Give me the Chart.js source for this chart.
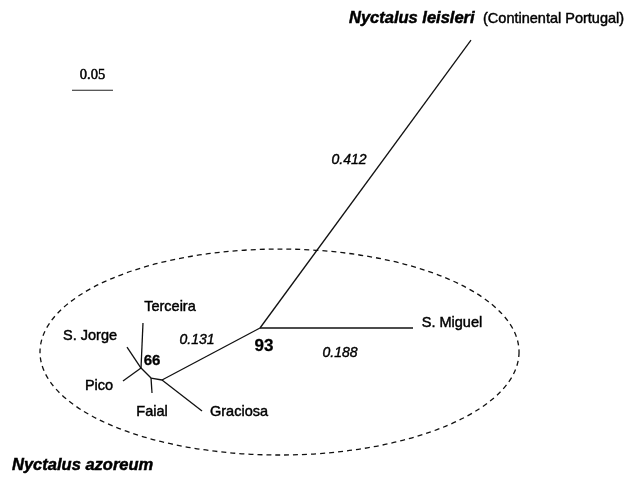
<!DOCTYPE html>
<html>
<head>
<meta charset="utf-8">
<script src="https://cdn.jsdelivr.net/npm/chart.js@4/dist/chart.umd.min.js"></script>
<style>
  html, body { margin: 0; padding: 0; background: #fff; }
  #wrap { width: 626px; height: 478px; }
</style>
</head>
<body>
<div id="wrap"><canvas id="c" width="626" height="478"></canvas></div>
<script>
// ---- Tree data (distance units: substitutions/site; origin at the node with support 93) ----
const nodeNames = ['N93', 'leisleri', 'S. Miguel', 'NG', 'Graciosa', 'NF', 'Faial', 'N66', 'Pico', 'S. Jorge', 'Terceira'];
const nodeX     = [0,      0.2573,     0.1866,      -0.1195, -0.0707,   -0.1329, -0.1317, -0.1451, -0.1671, -0.1622,   -0.1427];
const nodeY     = [0,      0.3512,     0,           -0.0634, -0.1012,   -0.0610, -0.0793, -0.0488, -0.0646, -0.0232,    0.0061];
const edges = [
  ['N93', 'leisleri'], ['N93', 'S. Miguel'], ['N93', 'NG'],
  ['NG', 'Graciosa'], ['NG', 'NF'], ['NF', 'Faial'], ['NF', 'N66'],
  ['N66', 'Pico'], ['N66', 'S. Jorge'], ['N66', 'Terceira']
];
const scaleBarLength = 0.05;
const scaleBarLabel = '0.05';
const branchLengthLabels = ['0.412', '0.131', '0.188'];
const bootstrapLabels = ['93', '66'];
const tipLabels = ['Terceira', 'S. Jorge', 'Pico', 'Faial', 'Graciosa', 'S. Miguel'];
const cladeLabels = ['Nyctalus leisleri', '(Continental Portugal)', 'Nyctalus azoreum'];

// ---- Layout (positions in data units) ----
const scaleBarStart = { x: -0.2293, y: 0.2899 };
const groupEllipse = { cx: 0.0238, cy: -0.0293, rx: 0.2921, ry: 0.1256 };
const SANS = '"Liberation Sans", Arial, sans-serif';
const textItems = [
  { t: cladeLabels[0], x: 0.1085, y: 0.3780, font: 'italic bold 16.5px ' + SANS, align: 'left', stroke: 0.5 },
  { t: cladeLabels[1], x: 0.2720, y: 0.3768, font: '14.5px ' + SANS, align: 'left', stroke: 0.45 },
  { t: cladeLabels[2], x: -0.3024, y: -0.1671, font: 'italic bold 16.5px ' + SANS, align: 'left', stroke: 0.5 },
  { t: scaleBarLabel, x: -0.2043, y: 0.3085, font: '14.5px "Liberation Serif", serif', align: 'center', stroke: 0.5 },
  { t: branchLengthLabels[0], x: 0.1085, y: 0.2049, font: 'italic 14px ' + SANS, align: 'center', stroke: 0.4 },
  { t: branchLengthLabels[1], x: -0.0768, y: -0.0146, font: 'italic 14px ' + SANS, align: 'center', stroke: 0.4 },
  { t: branchLengthLabels[2], x: 0.0976, y: -0.0305, font: 'italic 14px ' + SANS, align: 'center', stroke: 0.4 },
  { t: bootstrapLabels[0], x: 0.0049, y: -0.0220, font: 'bold 17px ' + SANS, align: 'center', stroke: 0.3 },
  { t: bootstrapLabels[1], x: -0.1317, y: -0.0402, font: 'bold 15px ' + SANS, align: 'center', stroke: 0.3 },
  { t: tipLabels[0], x: -0.1098, y: 0.0256, font: '14.5px ' + SANS, align: 'center', stroke: 0.45 },
  { t: tipLabels[1], x: -0.2073, y: -0.0098, font: '14.5px ' + SANS, align: 'center', stroke: 0.45 },
  { t: tipLabels[2], x: -0.1963, y: -0.0707, font: '14.5px ' + SANS, align: 'center', stroke: 0.45 },
  { t: tipLabels[3], x: -0.1317, y: -0.1024, font: '14.5px ' + SANS, align: 'center', stroke: 0.45 },
  { t: tipLabels[4], x: -0.0256, y: -0.1024, font: '14.5px ' + SANS, align: 'center', stroke: 0.45 },
  { t: tipLabels[5], x: 0.2341, y: 0.0061, font: '14.5px ' + SANS, align: 'center', stroke: 0.45 }
];

// ---- Build datasets ----
const idx = n => nodeNames.indexOf(n);
const datasets = edges.map(([a, b]) => ({
  data: [{ x: nodeX[idx(a)], y: nodeY[idx(a)] }, { x: nodeX[idx(b)], y: nodeY[idx(b)] }],
  showLine: true, borderColor: '#111', borderWidth: 1.3, pointRadius: 0, fill: false
}));
datasets.push({
  data: [scaleBarStart, { x: scaleBarStart.x + scaleBarLength, y: scaleBarStart.y }],
  showLine: true, borderColor: '#222', borderWidth: 1.1, pointRadius: 0
});

const decorPlugin = {
  id: 'decor',
  afterDatasetsDraw(chart) {
    const { ctx, scales: { x, y } } = chart;
    ctx.save();
    // dashed ellipse
    const cx = x.getPixelForValue(groupEllipse.cx), cy = y.getPixelForValue(groupEllipse.cy);
    const rx = Math.abs(x.getPixelForValue(groupEllipse.cx + groupEllipse.rx) - cx);
    const ry = Math.abs(y.getPixelForValue(groupEllipse.cy + groupEllipse.ry) - cy);
    ctx.beginPath();
    ctx.setLineDash([5, 4]);
    ctx.lineWidth = 1.3;
    ctx.strokeStyle = '#111';
    ctx.ellipse(cx, cy, rx, ry, 0, 0, Math.PI * 2);
    ctx.stroke();
    ctx.setLineDash([]);
    // texts
    ctx.fillStyle = '#000';
    ctx.strokeStyle = '#000';
    ctx.textBaseline = 'middle';
    textItems.forEach(it => {
      ctx.font = it.font;
      ctx.textAlign = it.align;
      const px = x.getPixelForValue(it.x), py = y.getPixelForValue(it.y);
      ctx.fillText(it.t, px, py);
      if (it.stroke > 0) {
        ctx.lineWidth = it.stroke;
        ctx.strokeText(it.t, px, py);
      }
    });
    ctx.restore();
  }
};

new Chart(document.getElementById('c'), {
  type: 'scatter',
  data: { datasets },
  options: {
    responsive: false,
    animation: false,
    layout: { padding: 0 },
    plugins: { legend: { display: false }, tooltip: { enabled: false } },
    scales: {
      x: { type: 'linear', display: false, min: -260 / 820, max: 366 / 820 },
      y: { type: 'linear', display: false, min: -150 / 820, max: 328 / 820 }
    }
  },
  plugins: [decorPlugin]
});
</script>
</body>
</html>
